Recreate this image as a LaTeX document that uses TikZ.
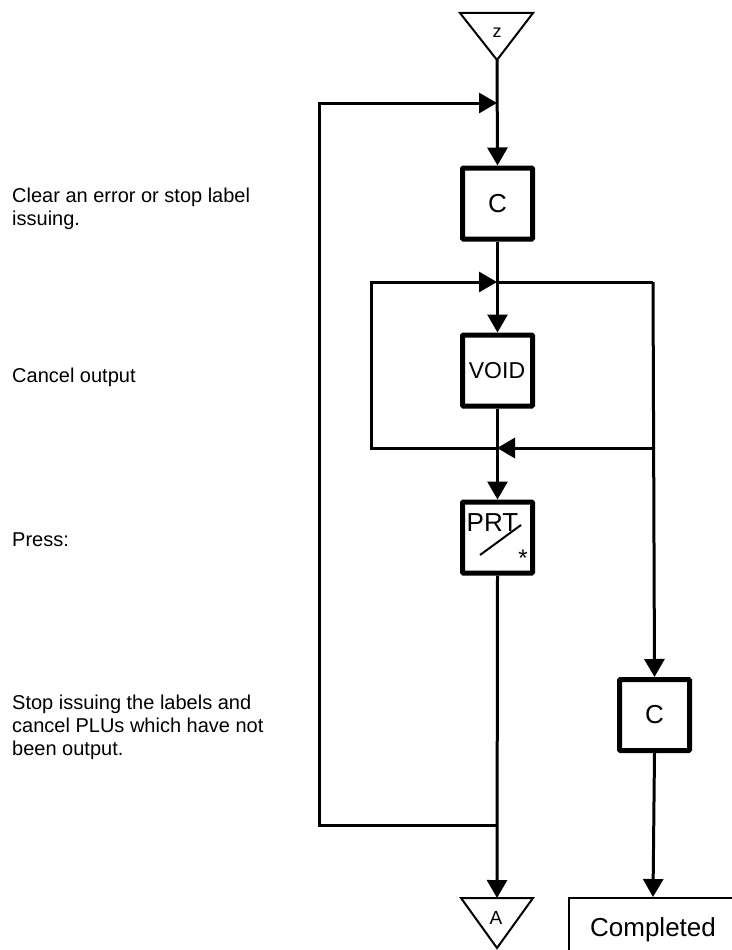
\documentclass[tikz,border=0pt]{standalone}
\usepackage{fontspec}
\setmainfont{Liberation Sans}
\usetikzlibrary{arrows.meta}

\begin{document}
\begin{tikzpicture}[x=1pt, y=-1pt,
  keybox/.style={draw, line width=5pt, rounded corners=1pt, minimum width=70pt, minimum height=71pt, inner sep=0pt, font=\fontsize{26}{28}\selectfont},
  wire/.style={line width=3pt},
  flow/.style={line width=3pt, -{Triangle[length=18pt, width=20pt]}},
  note/.style={anchor=west, align=left, inner sep=0pt, font=\fontsize{20}{23}\selectfont}]
  \useasboundingbox (0,0) rectangle (731,950);
  % draw triangle connectors
  \draw[line width=2pt] (460,13) -- (533,13) -- (497,60) -- cycle;
  \coordinate (tri_z_tip) at (497,60);
  \node[font=\fontsize{18}{20}\selectfont] (tri_z_lbl) at (497,33) {z};
  \draw[line width=2pt] (461,898) -- (533,898) -- (497,948) -- cycle;
  \coordinate (tri_a_top) at (497,898);
  \node[font=\fontsize{19}{20}\selectfont] (tri_a_lbl) at (496,918) {A};
  % draw key boxes
  \node[keybox] (key_c_top) at (497.5,203.5) {C};
  \node[keybox] (key_void) at (497.5,370.5) {};
  \node[font=\fontsize{23}{25}\selectfont] (key_void_lbl) at (497,371) {VOID};
  \node[keybox] (key_prt) at (497.5,537.5) {};
  \node[font=\fontsize{26}{28}\selectfont, inner sep=0pt] (key_prt_lbl) at (492.5,522.5) {PRT};
  \node[font=\fontsize{24}{26}\selectfont, inner sep=0pt] (key_prt_star) at (523,558) {*};
  \draw[line width=2pt] (480,555) -- (521,525);
  \node[keybox] (key_c_right) at (654.5,715) {C};
  \node[draw, line width=2pt, minimum width=168pt, minimum height=64pt, font=\fontsize{26}{28}\selectfont] (done) at (653,930) {Completed};
  % junction points of the loops
  \coordinate (jn_top) at (497,103);
  \coordinate (jn_mid) at (497,282);
  \coordinate (jn_low) at (497,448);
  \coordinate (jn_bot) at (497,825);
  \coordinate (outer_bl) at (319,825);
  \coordinate (outer_tl) at (319,103);
  \coordinate (inner_bl) at (371,448);
  \coordinate (inner_tl) at (371,282);
  \coordinate (inner_tr) at (653,282);
  \coordinate (inner_br) at (653,448);
  % draw the flow lines
  \draw[flow] (tri_z_tip) -- (key_c_top.north);
  \draw[flow] (key_c_top.south) -- (key_void.north);
  \draw[flow] (key_void.south) -- (key_prt.north);
  \draw[flow] (key_prt.south) -- (tri_a_top);
  \draw[flow] (jn_bot) -- (outer_bl) -- (outer_tl) -- (jn_top);
  \draw[flow] (jn_low) -- (inner_bl) -- (inner_tl) -- (jn_mid);
  \draw[wire] (jn_mid) -- (inner_tr);
  \draw[flow] (inner_tr) -- (key_c_right.north);
  \draw[flow] (inner_br) -- (jn_low);
  \draw[flow] (key_c_right.south) -- (done.north);
  % left hand notes
  \node[note] (note_clear) at (12,209) {Clear an error or stop label\\issuing.};
  \node[note] (note_cancel) at (12,377) {Cancel output};
  \node[note] (note_press) at (12,540) {Press:};
  \node[note] (note_stop) at (12,727) {Stop issuing the labels and\\cancel PLUs which have not\\been output.};
\end{tikzpicture}
\end{document}
